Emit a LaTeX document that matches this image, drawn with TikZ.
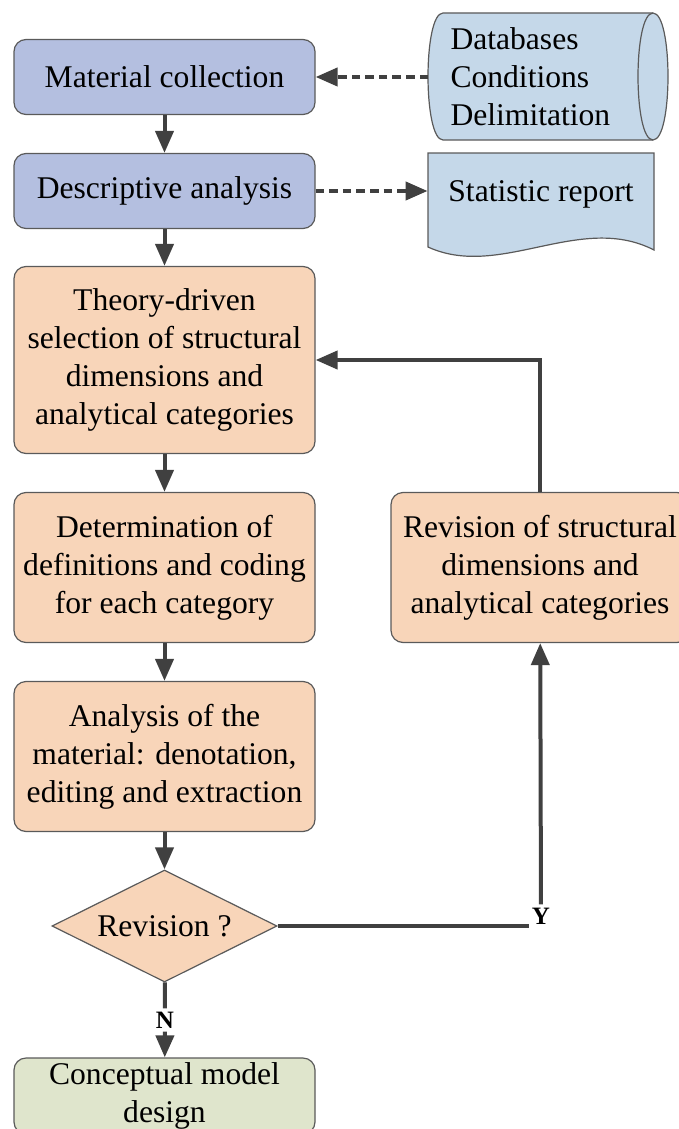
\documentclass[tikz,border=0pt]{standalone}
\usepackage{fontspec}
\setmainfont{LiberationSerif}[Extension=.ttf, UprightFont=*-Regular, BoldFont=*-Bold,
  ItalicFont=*-Italic, BoldItalicFont=*-BoldItalic]
\definecolor{boxlav}{HTML}{B4BFE0}
\definecolor{boxpeach}{HTML}{F8D5B9}
\definecolor{boxsage}{HTML}{DFE5CC}
\definecolor{storeblue}{HTML}{C5D8E9}
\definecolor{arrgray}{HTML}{404040}
\definecolor{edgegray}{HTML}{5A5A5A}
\usepackage{tikz}
\usetikzlibrary{shapes.geometric,arrows.meta,calc}

\begin{document}
\begin{tikzpicture}[x=0.5pt, y=-0.5pt,
  procbox/.style={draw=edgegray, fill=#1, rounded corners=6pt, line width=0.6pt,
    font=\fontsize{15.8}{19}\selectfont, minimum width=150.5pt, minimum height=37.5pt,
    align=center, inner sep=2pt},
  decision/.style={diamond, draw=edgegray, fill=boxpeach, line width=0.6pt, aspect=2,
    inner sep=0pt, font=\fontsize{15.8}{19}\selectfont, minimum width=112.5pt, minimum height=56pt},
  storetext/.style={font=\fontsize{15.8}{19}\selectfont, align=left, inner xsep=11pt,
    inner ysep=0pt, text width=98pt, minimum height=64pt},
  shapeline/.style={draw=edgegray, fill=storeblue, line width=0.6pt},
  arr/.style={-{Triangle[length=11pt,width=9pt]}, line width=2pt, arrgray},
  dasharr/.style={arr, dash pattern=on 4.3pt off 2.5pt},
  conn/.style={line width=2pt, arrgray},
  yn/.style={font=\fontsize{12.5}{14}\selectfont\bfseries, inner sep=1.5pt}
]
  \useasboundingbox (0,0) rectangle (679,1129);
  \clip (0,0) rectangle (679,1129);

  % Outlines of the storage and the report
  \draw[shapeline] (443,13) -- (653,13) .. controls +(20,0) and +(20,0) .. (653,140)
    -- (443,140) .. controls +(-20,0) and +(-20,0) .. (443,13) -- cycle;
  \draw[shapeline, fill=none] (653,13) .. controls +(-20,0) and +(-20,0) .. (653,140);
  \draw[shapeline] (428,153) -- (654,153) -- (654,250)
    .. controls (580,212) and (500,280) .. (428,247) -- cycle;

  % Nodes
  \node[procbox=boxlav] (mat) at (164.5,77) {Material collection};
  \node[procbox=boxlav] (desc) at (164.5,191) {Descriptive analysis};
  \node[procbox=boxpeach, minimum height=93.5pt] (theory) at (164.5,360)
    {Theory-driven\\selection of structural\\dimensions and\\analytical categories};
  \node[procbox=boxpeach, minimum height=75pt] (defs) at (164.5,567.5)
    {Determination of\\definitions and coding\\for each category};
  \node[procbox=boxpeach, minimum height=75pt] (anl) at (164.5,756.5)
    {Analysis of the\\material: denotation,\\editing and extraction};
  \node[decision] (rev) at (164.5,926) {Revision ?};
  \node[procbox=boxsage, minimum height=38pt] (concept) at (164.5,1096)
    {Conceptual model\\design};
  \node[procbox=boxpeach, minimum width=149pt, minimum height=75pt] (revbox) at (540,567.5)
    {Revision of structural\\dimensions and\\analytical categories};
  \node[storetext] (db) at (548.5,77) {Databases\\Conditions\\Delimitation};
  \node[font=\fontsize{15.8}{19}\selectfont, minimum width=113pt, minimum height=40pt,
    inner sep=0pt] (rep) at (541,194) {Statistic report};
  \node[yn] (yes) at (541,916) {Y};
  \node[yn] (no) at (165,1020) {N};

  % Arrows
  \draw[dasharr] (db) -- (mat);
  \draw[dasharr] (desc) -- (desc -| rep.west);
  \draw[arr] (mat) -- (desc);
  \draw[arr] (desc) -- (theory);
  \draw[arr] (theory) -- (defs);
  \draw[arr] (defs) -- (anl);
  \draw[arr] (anl) -- (rev);
  \draw[conn] (rev) -- (rev -| yes.west);
  \draw[arr] (yes) -- (revbox);
  \draw[arr] (revbox.north) |- (theory);
  \draw[conn] (rev) -- (no);
  \draw[arr] (no) -- (concept);
\end{tikzpicture}
\end{document}
